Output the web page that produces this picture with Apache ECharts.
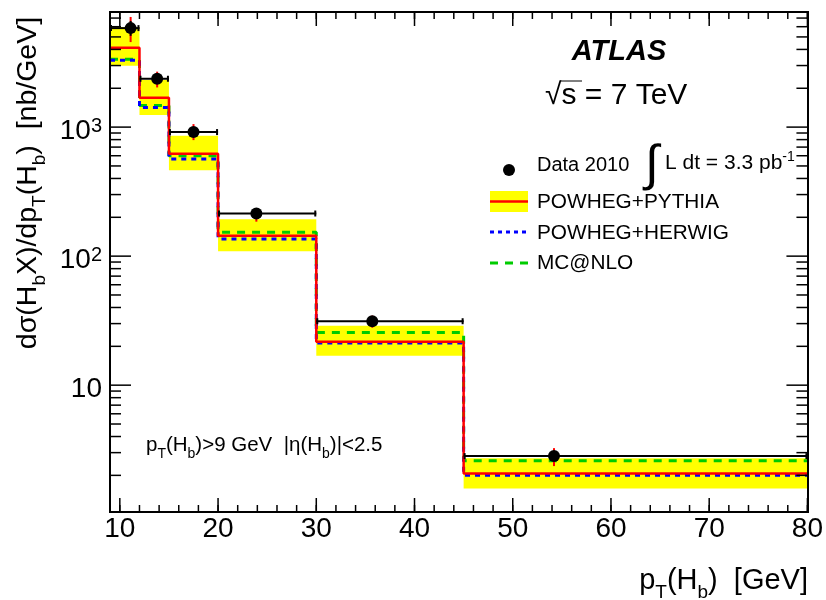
<!DOCTYPE html>
<html>
<head>
<meta charset="utf-8">
<script src="https://cdn.jsdelivr.net/npm/echarts@6/dist/echarts.min.js"></script>
<style>
  html, body { margin: 0; padding: 0; background: #fff; }
  #main { width: 826px; height: 600px; }
</style>
</head>
<body>
<div id="main"></div>
<script>
// bins and measured cross sections (nb/GeV)
const binEdges = [9, 12, 15, 20, 30, 45, 80];
const dataX = [11.1, 13.8, 17.5, 23.9, 35.7, 54.2];
const dataY = [5850, 2370, 915, 214, 31.3, 2.82];
const dataTotUp = [7140, 2690, 1055, 235, 34.6, 3.25];
const dataTotDown = [4560, 2030, 793, 185, 27.9, 2.36];
const dataStatUp = [6650, 2480, 950, 220, 32.3, 2.95];
const dataStatDown = [5100, 2260, 880, 208, 30.3, 2.69];
// predictions
const pythia = [4120, 1690, 621, 144, 21.7, 2.07];
const pythiaHigh = [5960, 2315, 856, 193, 28.9, 2.71];
const pythiaLow = [2985, 1239, 464, 109, 16.9, 1.58];
const herwig = [3290, 1421, 565, 136, 21.2, 2.0];
const mcatnlo = [3350, 1473, 599, 153, 25.6, 2.6];
// axes
const xMin = 9, xMax = 80, yMin = 1.04, yMax = 7800;
const xMajorTicks = [10, 20, 30, 40, 50, 60, 70, 80];
const xMinorTicks = [10, 12, 14, 16, 18, 20, 22, 24, 26, 28, 30, 32, 34, 36, 38, 40, 42, 44, 46, 48, 50,
  52, 54, 56, 58, 60, 62, 64, 66, 68, 70, 72, 74, 76, 78, 80];
const yMajorTicks = [10, 100, 1000];
const yMinorTicks = [2, 3, 4, 5, 6, 7, 8, 9, 20, 30, 40, 50, 60, 70, 80, 90,
  200, 300, 400, 500, 600, 700, 800, 900, 2000, 3000, 4000, 5000, 6000, 7000];
const yTickLabels = ['10', '10{sup|2}', '10{sup|3}'];

const FONT = '"Liberation Sans", Arial, Helvetica, sans-serif';

function stepData(vals) {
  const d = vals.map((v, i) => [binEdges[i], v]);
  d.push([binEdges[binEdges.length - 1], vals[vals.length - 1]]);
  return d;
}

const chart = echarts.init(document.getElementById('main'), null, { renderer: 'canvas' });

const tickData = [];
xMajorTicks.forEach(v => tickData.push(['x', v, 14]));
xMinorTicks.forEach(v => tickData.push(['x', v, 7]));
yMajorTicks.forEach(v => tickData.push(['y', v, 21]));
yMinorTicks.forEach(v => tickData.push(['y', v, 11]));

const subStyle = (size) => ({ fontSize: size, lineHeight: size, verticalAlign: 'bottom', fontFamily: FONT, fill: '#000' });

const option = {
  animation: false,
  backgroundColor: '#fff',
  grid: { left: 110, right: 18, top: 12, bottom: 88, show: false },
  xAxis: {
    type: 'value', min: xMin, max: xMax,
    axisLine: { show: false }, axisTick: { show: false }, splitLine: { show: false },
    axisLabel: { customValues: xMajorTicks, fontSize: 28, fontFamily: FONT, color: '#000', margin: 3 }
  },
  yAxis: {
    type: 'log', logBase: 10, min: yMin, max: yMax,
    axisLine: { show: false }, axisTick: { show: false }, splitLine: { show: false },
    axisLabel: { show: false }
  },
  series: [
    {
      name: 'band', type: 'custom', clip: true, z: 1,
      data: pythia.map((_, i) => [binEdges[i], binEdges[i + 1], pythiaHigh[i], pythiaLow[i]]),
      encode: { x: [0, 1], y: [2, 3] },
      renderItem: (params, api) => {
        const p1 = api.coord([api.value(0), api.value(2)]);
        const p2 = api.coord([api.value(1), api.value(3)]);
        return { type: 'rect', shape: { x: p1[0], y: p1[1], width: p2[0] - p1[0], height: p2[1] - p1[1] },
          style: { fill: '#ffff00' } };
      }
    },
    {
      name: 'MC@NLO', type: 'line', step: 'end', symbol: 'none', z: 2,
      data: stepData(mcatnlo),
      lineStyle: { color: '#00cc00', width: 3, type: [8, 7] }
    },
    {
      name: 'POWHEG+HERWIG', type: 'line', step: 'end', symbol: 'none', z: 3,
      data: stepData(herwig),
      lineStyle: { color: '#0000ff', width: 3, type: [5, 5] }
    },
    {
      name: 'POWHEG+PYTHIA', type: 'line', step: 'end', symbol: 'none', z: 4,
      data: stepData(pythia),
      lineStyle: { color: '#ff0000', width: 2.5 }
    },
    {
      name: 'errors', type: 'custom', z: 5,
      data: dataY.map((v, i) => [dataX[i], v, binEdges[i], binEdges[i + 1],
        dataTotUp[i], dataTotDown[i], dataStatUp[i], dataStatDown[i]]),
      encode: { x: 0, y: 1 },
      renderItem: (params, api) => {
        const c = api.coord([api.value(0), api.value(1)]);
        const l = api.coord([api.value(2), api.value(1)]);
        const r = api.coord([api.value(3), api.value(1)]);
        const tu = api.coord([api.value(0), api.value(4)]);
        const td = api.coord([api.value(0), api.value(5)]);
        const su = api.coord([api.value(0), api.value(6)]);
        const sd = api.coord([api.value(0), api.value(7)]);
        const blk = { stroke: '#000', lineWidth: 2 };
        return {
          type: 'group', children: [
            { type: 'line', shape: { x1: l[0], y1: c[1], x2: r[0], y2: c[1] }, style: blk },
            { type: 'line', shape: { x1: l[0] + 1, y1: c[1] - 3, x2: l[0] + 1, y2: c[1] + 3 }, style: blk },
            { type: 'line', shape: { x1: r[0] - 1, y1: c[1] - 3, x2: r[0] - 1, y2: c[1] + 3 }, style: blk },
            { type: 'line', shape: { x1: c[0], y1: tu[1], x2: c[0], y2: td[1] }, style: { stroke: '#ff0000', lineWidth: 2 } },
            { type: 'line', shape: { x1: c[0], y1: su[1], x2: c[0], y2: sd[1] }, style: blk }
          ]
        };
      }
    },
    {
      name: 'Data 2010', type: 'scatter', z: 6,
      data: dataY.map((v, i) => [dataX[i], v]),
      symbol: 'circle', symbolSize: 12, itemStyle: { color: '#000', opacity: 1 }
    },
    {
      name: 'ticks', type: 'custom', z: 8, clip: false, silent: true,
      data: tickData.map(t => t[0] === 'x' ? [t[1], yMin, t[2], 0] : [xMin, t[1], t[2], 1]),
      encode: { x: 0, y: 1 },
      renderItem: (params, api) => {
        const len = api.value(2);
        const st = { stroke: '#000', lineWidth: 1.5 };
        if (api.value(3) === 0) {
          const b = api.coord([api.value(0), yMin]);
          const t = api.coord([api.value(0), yMax]);
          return { type: 'group', children: [
            { type: 'line', shape: { x1: b[0], y1: b[1], x2: b[0], y2: b[1] - len }, style: st },
            { type: 'line', shape: { x1: t[0], y1: t[1], x2: t[0], y2: t[1] + len }, style: st }
          ] };
        }
        const lft = api.coord([xMin, api.value(1)]);
        const rgt = api.coord([xMax, api.value(1)]);
        return { type: 'group', children: [
          { type: 'line', shape: { x1: lft[0], y1: lft[1], x2: lft[0] + len, y2: lft[1] }, style: st },
          { type: 'line', shape: { x1: rgt[0], y1: rgt[1], x2: rgt[0] - len, y2: rgt[1] }, style: st }
        ] };
      }
    },
    {
      name: 'ylabels', type: 'custom', z: 8, clip: false, silent: true,
      data: yMajorTicks.map((v, i) => [xMin, v, i]),
      encode: { x: 0, y: 1 },
      renderItem: (params, api) => {
        const p = api.coord([xMin, api.value(1)]);
        return {
          type: 'text', x: p[0] - 8, y: p[1] + 4,
          style: {
            text: yTickLabels[api.value(2)], align: 'right', verticalAlign: 'middle',
            fontSize: 28, fontFamily: FONT, fill: '#000', lineHeight: 30,
            rich: { sup: { fontSize: 20, fontFamily: FONT, lineHeight: 14, verticalAlign: 'top', fill: '#000' } }
          }
        };
      }
    }
  ],
  graphic: [
    // frame
    { type: 'rect', z: 100, shape: { x: 110, y: 12, width: 698, height: 500 },
      style: { fill: null, stroke: '#000', lineWidth: 2 } },
    { type: 'text', z: 100, x: 619, y: 52,
      style: { text: 'ATLAS', align: 'center', verticalAlign: 'middle', fontSize: 29, fontWeight: 'bold',
        fontStyle: 'italic', fontFamily: FONT, fill: '#000' } },
    { type: 'text', z: 100, x: 545, y: 96,
      style: { text: '√s = 7 TeV', align: 'left', verticalAlign: 'middle', fontSize: 30, fontFamily: FONT, fill: '#000' } },
    { type: 'line', z: 100, shape: { x1: 560, y1: 81, x2: 582, y2: 81 }, style: { stroke: '#000', lineWidth: 1 } },
    // legend
    { type: 'circle', z: 100, shape: { cx: 509, cy: 170, r: 6 }, style: { fill: '#000' } },
    { type: 'text', z: 100, x: 537, y: 165,
      style: { text: 'Data 2010', verticalAlign: 'middle', fontSize: 20, fontFamily: FONT, fill: '#000' } },
    { type: 'text', z: 100, x: 645, y: 166,
      style: { text: '∫', verticalAlign: 'middle', fontSize: 50, fontFamily: FONT, fill: '#000' } },
    { type: 'text', z: 100, x: 665, y: 163,
      style: { text: 'L dt = 3.3 pb{sup|-1}', verticalAlign: 'middle', fontSize: 21, lineHeight: 26, fontFamily: FONT, fill: '#000',
        rich: { sup: { fontSize: 14, lineHeight: 12, verticalAlign: 'top', fontFamily: FONT, fill: '#000' } } } },
    { type: 'rect', z: 100, shape: { x: 490, y: 191, width: 38, height: 21 }, style: { fill: '#ffff00' } },
    { type: 'line', z: 100, shape: { x1: 490, y1: 201.5, x2: 528, y2: 201.5 }, style: { stroke: '#ff0000', lineWidth: 2.5 } },
    { type: 'text', z: 100, x: 537, y: 202,
      style: { text: 'POWHEG+PYTHIA', verticalAlign: 'middle', fontSize: 20.8, fontFamily: FONT, fill: '#000' } },
    { type: 'line', z: 100, shape: { x1: 490, y1: 232, x2: 528, y2: 232 },
      style: { stroke: '#0000ff', lineWidth: 3, lineDash: [4, 4] } },
    { type: 'text', z: 100, x: 537, y: 233,
      style: { text: 'POWHEG+HERWIG', verticalAlign: 'middle', fontSize: 20.8, fontFamily: FONT, fill: '#000' } },
    { type: 'line', z: 100, shape: { x1: 490, y1: 263, x2: 528, y2: 263 },
      style: { stroke: '#00cc00', lineWidth: 3, lineDash: [8, 7] } },
    { type: 'text', z: 100, x: 537, y: 263,
      style: { text: 'MC@NLO', verticalAlign: 'middle', fontSize: 20.8, fontFamily: FONT, fill: '#000' } },
    // cuts
    { type: 'text', z: 100, x: 146, y: 445,
      style: { text: 'p{sub|T}(H{sub|b})>9 GeV  |η(H{sub|b})|<2.5', verticalAlign: 'middle',
        fontSize: 20.5, lineHeight: 32, fontFamily: FONT, fill: '#000',
        rich: { sub: subStyle(14) } } },
    // axis titles
    { type: 'text', z: 100, x: 808, y: 581,
      style: { text: 'p{sub|T}(H{sub|b})  [GeV]', align: 'right', verticalAlign: 'middle',
        fontSize: 29, lineHeight: 42, fontFamily: FONT, fill: '#000',
        rich: { sub: subStyle(19) } } },
    { type: 'text', z: 100, x: 28, y: 183, rotation: Math.PI / 2,
      style: { text: 'dσ(H{sub|b}X)/dp{sub|T}(H{sub|b})  [nb/GeV]', align: 'center', verticalAlign: 'middle',
        fontSize: 28.5, lineHeight: 42, fontFamily: FONT, fill: '#000',
        rich: { sub: subStyle(19) } } }
  ]
};

chart.setOption(option);
</script>
</body>
</html>
